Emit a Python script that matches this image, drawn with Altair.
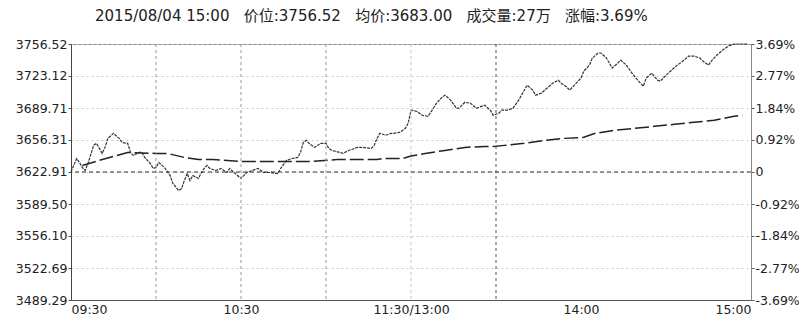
import altair as alt
import pandas as pd

# ---- data ----
price_min = [0, 2, 3, 4, 5, 6, 8, 9, 11, 12, 13, 15, 17, 18, 20, 21, 22, 24, 25, 26, 28, 29, 30, 31, 33, 35, 36, 38, 39, 40,
             41, 42, 43, 45, 46, 47, 48, 49, 51, 53, 55, 56, 58, 60, 61, 62, 64, 66, 68, 70, 73, 74, 76, 78, 80, 81, 82, 83, 84,
             86, 88, 90, 91, 92, 95, 96, 98, 100, 101, 103, 106, 107, 108, 109, 111, 113, 114, 116, 118, 119, 120,
             122, 124, 126, 127, 129, 131, 132, 134, 136, 137, 139, 141, 143, 144, 146, 148, 149, 151, 152, 154, 156, 158,
             160, 161, 163, 164, 166, 168, 170, 172, 173, 175, 176, 178, 180, 181, 183, 184, 186, 187, 189, 191, 193, 194,
             196, 198, 200, 202, 203, 205, 207, 208, 210, 212, 214, 216, 218, 220, 222, 223, 225, 226, 228, 230, 232, 234, 239]
price_val = [3622.9, 3637.0, 3632.9, 3627.6, 3624.5, 3631.8, 3650.7, 3652.8, 3642.3, 3648.6, 3658.0, 3663.3, 3658.0, 3653.8,
             3652.8, 3643.3, 3640.2, 3643.3, 3643.3, 3638.1, 3631.8, 3626.6, 3627.6, 3632.9, 3627.6, 3619.2, 3610.8, 3603.5,
             3605.6, 3614.0, 3621.3, 3614.0, 3619.2, 3616.1, 3622.4, 3626.6, 3629.7, 3626.6, 3624.5, 3626.6, 3622.4, 3626.6,
             3621.3, 3616.1, 3619.2, 3622.4, 3624.5, 3626.6, 3622.4, 3622.4, 3621.3, 3626.6, 3634.9, 3637.0, 3638.1, 3643.3,
             3653.8, 3655.9, 3652.8, 3648.6, 3652.8, 3652.8, 3647.5, 3645.4, 3643.3, 3642.3, 3645.4, 3647.5, 3648.6, 3648.6,
             3647.5, 3650.7, 3658.0, 3663.3, 3661.2, 3663.3, 3663.3, 3664.3, 3668.5, 3673.7, 3687.4,
             3686.3, 3682.1, 3681.1, 3685.3, 3694.7, 3701.0, 3703.1, 3697.9, 3689.5, 3689.5, 3695.7, 3694.7, 3689.5, 3690.5,
             3692.6, 3687.4, 3682.1, 3684.2, 3687.4, 3687.4, 3689.5, 3697.9, 3708.3, 3713.5, 3708.3, 3703.1, 3705.2, 3710.4,
             3715.6, 3718.8, 3715.6, 3711.5, 3708.3, 3714.6, 3720.9, 3728.2, 3734.5, 3741.8, 3747.1, 3747.1, 3741.8, 3731.4,
             3736.6, 3739.8, 3734.5, 3726.1, 3718.8, 3712.5, 3720.9, 3726.1, 3718.8, 3717.7, 3724.0, 3729.3, 3734.5, 3738.7,
             3743.9, 3743.9, 3741.8, 3738.7, 3734.5, 3738.7, 3745.0, 3750.2, 3754.4, 3756.5, 3756.5]

avg_min = [4, 10, 20, 30, 34, 40, 45, 50, 60, 85, 94, 108, 110, 117, 120, 125, 132, 139, 146, 149, 153, 160, 167, 174,
           181, 185, 192, 199, 206, 213, 220, 227, 234, 237]
avg_val = [3629.7, 3635.0, 3643.3, 3642.3, 3642.3, 3638.1, 3636.0, 3636.0, 3633.9, 3633.9, 3636.0, 3636.0, 3637.0, 3637.0,
           3639.5, 3642.3, 3645.4, 3648.6, 3649.6, 3649.6, 3650.7, 3652.8, 3655.9, 3658.0, 3659.1, 3663.3, 3666.4, 3668.5,
           3670.6, 3672.7, 3674.8, 3676.9, 3681.1, 3682.1]

y_ticks = [3756.52, 3723.12, 3689.71, 3656.31, 3622.91, 3589.50, 3556.10, 3522.69, 3489.29]
pct_labels = ["3.69%", "2.77%", "1.84%", "0.92%", "0", "-0.92%", "-1.84%", "-2.77%", "-3.69%"]
prev_close = 3622.91

x_ticks = [0, 60, 120, 180, 240]
x_labels = ["09:30", "10:30", "11:30/13:00", "14:00", "15:00"]

grid_mid = [30, 60, 90]
grid_faint = [120]
grid_dark = [150]

title_parts = ["2015/08/04 15:00", "价位:3756.52", "均价:3683.00", "成交量:27万", "涨幅:3.69%"]
title_text = "\u00a0\u00a0\u00a0".join(title_parts)

FONT = "DejaVu Sans"
CJK = "DejaVu Sans, Noto Sans CJK SC"

price_df = pd.DataFrame({"m": price_min, "v": price_val})
avg_df = pd.DataFrame({"m": avg_min, "v": avg_val})

xscale = alt.Scale(domain=[0, 240], nice=False, zero=False)
yscale = alt.Scale(domain=[y_ticks[-1], y_ticks[0]], nice=False, zero=False)

x_expr = "[" + ",".join(f"'{s}'" for s in x_labels) + "][indexof([" + ",".join(str(v) for v in x_ticks) + "], datum.value)]"
r_expr = "[" + ",".join(f"'{s}'" for s in pct_labels) + "][indexof([" + ",".join(str(v) for v in y_ticks) + "], datum.value)]"

x_axis = alt.Axis(values=x_ticks, labelExpr=x_expr, title=None, grid=False, ticks=False,
                  labelFlush=True, labelFont=FONT, labelFontSize=12.5, labelColor="#222",
                  domainColor="#555", labelPadding=3)

left_axis = alt.Axis(values=y_ticks, format=".2f", title=None, orient="left", grid=True,
                     gridColor="#c8c8c8", gridDash=[2, 3], tickSize=3, tickColor="#555",
                     domainColor="#444", labelFont=FONT, labelFontSize=12.5, labelColor="#222", labelPadding=1)
right_axis = alt.Axis(values=y_ticks, labelExpr=r_expr, title=None, orient="right", grid=False,
                      tickSize=3, tickColor="#555", domainColor="#888",
                      labelFont=FONT, labelFontSize=12.5, labelColor="#222", labelPadding=1)

price_line = alt.Chart(price_df).mark_line(color="#333", strokeWidth=1.2, strokeDash=[3, 1]).encode(
    x=alt.X("m:Q", scale=xscale, axis=x_axis),
    y=alt.Y("v:Q", scale=yscale, axis=left_axis),
)

avg_line = alt.Chart(avg_df).mark_line(color="#222", strokeWidth=1.5, strokeDash=[14, 4]).encode(
    x=alt.X("m:Q", scale=xscale),
    y=alt.Y("v:Q", scale=yscale, axis=right_axis),
)

zero_line = alt.Chart(pd.DataFrame({"v": [prev_close]})).mark_rule(
    color="#333", strokeWidth=1, strokeDash=[4, 3]).encode(y=alt.Y("v:Q", scale=yscale, axis=None))

def vgrid(vals, color):
    return alt.Chart(pd.DataFrame({"m": vals})).mark_rule(
        color=color, strokeWidth=1, strokeDash=[3, 3]).encode(x=alt.X("m:Q", scale=xscale))

title = alt.Chart(pd.DataFrame({"t": [title_text]})).mark_text(
    align="left", baseline="middle", font=CJK, fontSize=15, color="#222").encode(
    x=alt.value(24), y=alt.value(-28), text="t:N")

chart = alt.layer(
    price_line, avg_line,
    vgrid(grid_mid, "#999"), vgrid(grid_faint, "#c4c4c4"), vgrid(grid_dark, "#555"),
    zero_line, title
).resolve_axis(y="independent").properties(
    width=680, height=256,
    autosize=alt.AutoSizeParams(type="none"),
    padding={"left": 63, "top": 36, "right": 48, "bottom": 16},
    background="white",
).configure_view(stroke="#888", strokeWidth=1)

chart.save("out.html", embed_options={"renderer": "svg", "actions": False})
